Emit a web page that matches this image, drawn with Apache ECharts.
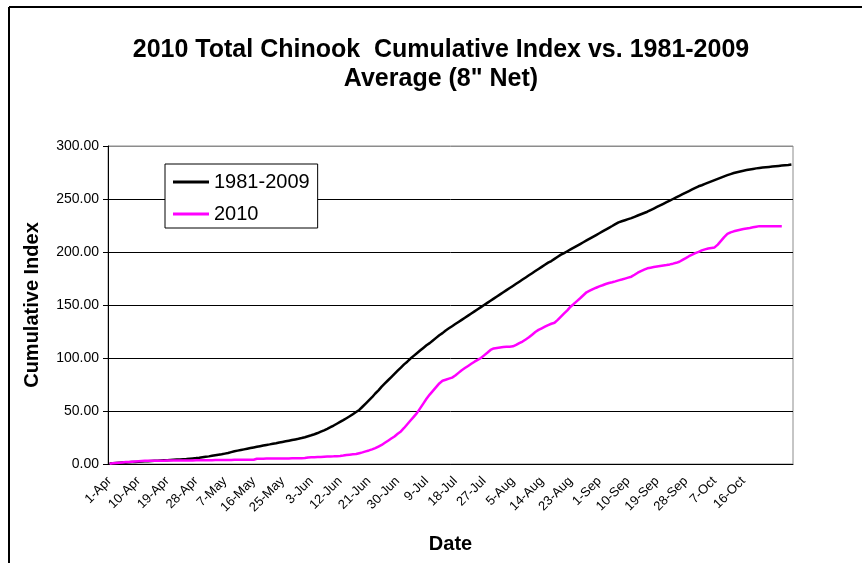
<!DOCTYPE html>
<html>
<head>
<meta charset="utf-8">
<title>2010 Total Chinook Cumulative Index</title>
<script src="https://cdn.jsdelivr.net/npm/echarts@6/dist/echarts.min.js"></script>
<style>
  html, body { margin: 0; padding: 0; background: #fff; }
  #chart { width: 862px; height: 563px; }
</style>
</head>
<body>
<div id="chart"></div>
<script>
// 月份和天数 (1-Apr .. 31-Oct)
var months = ['Apr', 'May', 'Jun', 'Jul', 'Aug', 'Sep', 'Oct'];
var monthDays = [30, 31, 30, 31, 31, 30, 31];

var dates = [];
for (var m = 0; m < months.length; m++) {
  for (var d = 1; d <= monthDays[m]; d++) {
    dates.push(d + '-' + months[m]);
  }
}

// 1981-2009 average
var avg19812009 = [
  0.5, 0.7, 0.9, 1.1, 1.3, 1.5, 1.7, 1.9, 2.0, 2.1, 2.3,
  2.5, 2.6, 2.8, 3.0, 3.1, 3.3, 3.5, 3.6, 3.8, 4.0, 4.2, 4.3, 4.5, 4.7,
  5.0, 5.3, 5.6, 6.0, 6.4, 6.8, 7.2, 7.7, 8.2, 8.7, 9.2, 9.8, 10.4, 11.2, 12.0,
  12.6, 13.2, 13.8, 14.4, 15.0, 15.6, 16.2, 16.8, 17.4, 18.0,
  18.5, 19.1, 19.6, 20.2, 20.8, 21.4, 22.0, 22.6, 23.2, 23.8, 24.5,
  25.3, 26.2, 27.1, 28.1, 29.2, 30.5,
  31.8, 33.2, 34.7, 36.3, 38.0, 39.7, 41.4, 43.2, 45.0,
  47.0, 49.0, 51.0,
  54, 57, 60, 63, 66.5, 69.5, 73, 76,
  79, 82, 85, 88, 91, 94, 96.5, 99.5, 102,
  104.5, 107, 109.5, 112, 114,
  116.5, 119, 121.5, 123.5, 126, 128,
  130, 132, 134, 136, 138, 140, 142, 144, 146, 148, 150,
  152, 154, 156, 158, 160, 162, 164, 166, 168, 170, 172,
  174, 176, 178, 180, 182, 184, 186, 188, 190, 191.5, 193.5, 195.5, 197.5, 199,
  200.7, 202.4, 204.1, 205.8, 207.5, 209.2, 210.9, 212.6, 214.3, 216, 217.7, 219.4, 221.1, 222.8, 224.5, 226.3, 228,
  229, 230, 231, 232,
  233.2, 234.4, 235.6, 236.8, 238,
  239.5, 241, 242.5, 244, 245.5, 247, 248.5, 250,
  251.5, 253, 254.5, 256, 257.5, 259, 260.5, 262, 263,
  264.2, 265.4, 266.6, 267.8, 269, 270.2, 271.4, 272.5, 273.5, 274.5,
  275.3, 276, 276.7, 277.3, 277.9, 278.4, 278.9, 279.3, 279.7, 280,
  280.3, 280.6, 280.9, 281.2, 281.5, 281.8, 282.1, 282.5
];

// 2010 cumulative index
var cum2010 = [
  0.3, 0.6, 0.9, 1.2, 1.5, 1.8, 2.0, 2.2, 2.4, 2.6, 2.8, 3.0,
  3.0, 3.0, 3.0, 3.1, 3.1, 3.1, 3.2, 3.2, 3.2, 3.3, 3.3, 3.3, 3.4, 3.4, 3.4, 3.5, 3.5,
  3.5, 3.6, 3.6, 3.6, 3.7, 3.7, 3.7, 3.8, 3.8, 3.8, 3.9, 3.9, 3.9, 4.0, 4.0, 4.0, 4.0,
  5.0, 5.0, 5.0, 5.1, 5.1, 5.1, 5.2, 5.2, 5.2, 5.3, 5.3, 5.4, 5.4, 5.5, 5.5, 5.6,
  6.2, 6.3, 6.4, 6.5, 6.6, 6.8, 7.0, 7.1, 7.2, 7.4, 7.6, 8.0, 8.5, 8.8, 9.1, 9.4,
  10.2, 11.0, 11.9, 12.8, 13.8, 15.0, 16.5, 18.0,
  20, 22, 24, 26, 28.5, 30.7,
  34, 37.5, 41, 44.5, 48,
  52.5, 57, 61.5, 65.5,
  69, 72.5, 76, 78.5, 79.5, 80.5, 81.5,
  83.5, 86, 88.5, 90.5, 92.5, 94.5, 96.5, 98.2, 100, 102.5, 105, 107.6,
  109, 109.5, 110, 110.3, 110.5, 110.7, 111, 112.3, 114,
  115.5, 117.5, 119.5, 122, 124.5, 126.5, 128, 129.5, 131, 132.3, 133.3,
  136, 139, 142, 145, 148.4, 151, 153.7, 156.4, 159.2, 162,
  163.5, 165, 166.3, 167.5, 168.6, 169.8, 170.8,
  171.5, 172.3, 173.2, 174, 174.9, 175.8, 176.7,
  178.5, 180.5, 182, 183.3, 184.6,
  185.2, 185.8, 186.3, 186.8, 187.3, 187.7, 188.3, 189, 189.8, 190.8,
  192.5, 194.2, 196, 197.5, 199, 200.2,
  201.5, 202.5, 203.3, 203.8, 204.3,
  207, 210.5, 214, 217, 218.5,
  219.5, 220.3, 221, 221.7, 222.2, 222.7, 223.3, 223.9, 224.4,
  224.4, 224.4, 224.4, 224.4, 224.4, 224.4, 224.4,
  null, null, null
];

var yTicks = [0, 50, 100, 150, 200, 250, 300];
var labelStep = 9;       // one label every 9 days
var lastLabelIndex = 198; // 16-Oct is the last label shown

var chart = echarts.init(document.getElementById('chart'));

var option = {
  backgroundColor: '#fff',
  animation: false,
  textStyle: { fontFamily: '"Liberation Sans", Arial, sans-serif' },
  title: {
    text: '2010 Total Chinook  Cumulative Index vs. 1981-2009\nAverage (8" Net)',
    left: 436,
    textAlign: 'center',
    top: 31,
    textStyle: {
      fontSize: 25,
      fontWeight: 'bold',
      color: '#000',
      lineHeight: 29
    }
  },
  // 外框 (top + left edge of the Excel chart area)
  graphic: [
    { type: 'line', shape: { x1: 9, y1: 7, x2: 862, y2: 7 }, style: { stroke: '#000', lineWidth: 2 } },
    { type: 'line', shape: { x1: 9, y1: 7, x2: 9, y2: 563 }, style: { stroke: '#000', lineWidth: 2 } }
  ],
  legend: {
    orient: 'vertical',
    left: 165,
    top: 164,
    padding: [8, 8, 4, 8],
    itemGap: 12,
    itemWidth: 36,
    itemHeight: 3,
    icon: 'rect',
    backgroundColor: '#fff',
    borderColor: '#000',
    borderWidth: 1,
    textStyle: { fontSize: 20, color: '#000', lineHeight: 20, height: 20 },
    data: ['1981-2009', '2010']
  },
  grid: {
    left: 108,
    right: 69,
    top: 146,
    bottom: 99,
    show: true,
    borderColor: '#8c8c8c',
    borderWidth: 1
  },
  xAxis: {
    type: 'category',
    data: dates,
    boundaryGap: true,
    name: 'Date',
    nameLocation: 'middle',
    nameGap: 70,
    nameTextStyle: { fontSize: 20, fontWeight: 'bold', color: '#000' },
    axisLine: { lineStyle: { color: '#000', width: 1 } },
    axisTick: { interval: 0, length: 4, lineStyle: { color: '#000' } },
    axisLabel: {
      interval: function (index) {
        return index % labelStep === 0 && index <= lastLabelIndex;
      },
      rotate: 45,
      fontSize: 13,
      color: '#000',
      margin: 15
    },
    splitLine: { show: false }
  },
  yAxis: {
    type: 'value',
    min: yTicks[0],
    max: yTicks[yTicks.length - 1],
    interval: 50,
    name: 'Cumulative Index',
    nameLocation: 'middle',
    nameGap: 66,
    nameTextStyle: { fontSize: 20, fontWeight: 'bold', color: '#000' },
    axisLine: { show: true, lineStyle: { color: '#000', width: 1 } },
    axisTick: { show: true, length: 5, lineStyle: { color: '#000' } },
    axisLabel: {
      fontSize: 14,
      color: '#000',
      margin: 9,
      formatter: function (v) { return v.toFixed(2); }
    },
    splitLine: {
      show: true,
      lineStyle: { color: ['#000', '#000', '#000', '#000', '#000', '#000', '#8c8c8c'], width: 1 }
    }
  },
  series: [
    {
      name: '1981-2009',
      type: 'line',
      data: avg19812009,
      symbol: 'none',
      lineStyle: { color: '#000', width: 2.5 },
      itemStyle: { color: '#000' }
    },
    {
      name: '2010',
      type: 'line',
      data: cum2010,
      symbol: 'none',
      lineStyle: { color: '#ff00ff', width: 2.5 },
      itemStyle: { color: '#ff00ff' }
    }
  ]
};

chart.setOption(option);
</script>
</body>
</html>
